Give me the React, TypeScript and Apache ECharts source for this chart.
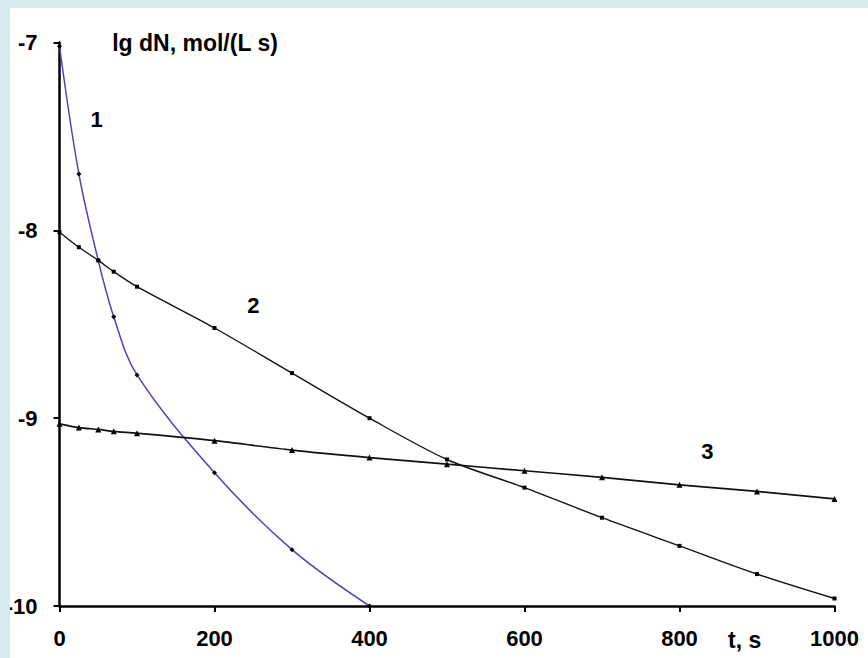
import React, { useEffect, useRef } from "react";
import * as echarts from "echarts";

// Data
const times1 = [0, 25, 50, 70, 100, 200, 300, 400];
const curve1 = [-7.02, -7.7, -8.16, -8.46, -8.77, -9.29, -9.7, -10.0];
const times23 = [0, 25, 50, 70, 100, 200, 300, 400, 500, 600, 700, 800, 900, 1000];
const curve2 = [-8.01, -8.09, -8.16, -8.22, -8.3, -8.52, -8.76, -9.0, -9.22, -9.37, -9.53, -9.68, -9.83, -9.96];
const curve3 = [-9.03, -9.05, -9.06, -9.07, -9.08, -9.12, -9.17, -9.21, -9.245, -9.28, -9.315, -9.355, -9.39, -9.43];

// Annotations in data coordinates
const curveLabels = [
  { text: "1", t: 48, v: -7.41 },
  { text: "2", t: 250, v: -8.4 },
  { text: "3", t: 836, v: -9.18 },
];
const yName = "lg dN, mol/(L s)";
const xName = "t, s";

const FONT = "'Liberation Sans', Arial, sans-serif";

export default function App() {
  const ref = useRef<HTMLDivElement>(null);
  useEffect(() => {
    if (!ref.current) return;
    const chart = echarts.init(ref.current, null, { renderer: "svg" });
    const zip = (ts: number[], vs: number[]) => ts.map((t, i) => [t, vs[i]]);
    chart.setOption({
      animation: false,
      backgroundColor: "#ffffff",
      grid: {
        left: 49.5,
        top: 34.5,
        width: 775,
        height: 563.5,
        containLabel: false,
        outerBoundsMode: "none",
      },
      xAxis: {
        type: "value",
        min: 0,
        max: 1000,
        interval: 200,
        axisLine: { onZero: false, lineStyle: { color: "#000", width: 2.5 } },
        axisTick: { show: true, length: 6, lineStyle: { color: "#000", width: 2 } },
        axisLabel: {
          color: "#000",
          fontSize: 22,
          fontWeight: "bold",
          fontFamily: FONT,
          margin: 21,
          formatter: (v: number) => String(v),
          showMinLabel: true,
          showMaxLabel: true,
        },
        splitLine: { show: false },
      },
      yAxis: {
        type: "value",
        min: -10,
        max: -7,
        interval: 1,
        axisLine: { show: true, onZero: false, lineStyle: { color: "#000", width: 2.5 } },
        axisTick: { show: true, length: 6, lineStyle: { color: "#000", width: 2 } },
        axisLabel: {
          color: "#000",
          fontSize: 22,
          fontWeight: "bold",
          fontFamily: FONT,
          margin: 22,
          formatter: (v: number) => String(v),
        },
        splitLine: { show: false },
      },
      series: [
        {
          type: "line",
          data: zip(times1, curve1),
          smooth: 0.35,
          symbol: "diamond",
          symbolSize: 5,
          itemStyle: { color: "#000" },
          lineStyle: { color: "#4646b4", width: 1.5 },
          z: 3,
        },
        {
          type: "line",
          data: zip(times23, curve2),
          smooth: 0.3,
          symbol: "rect",
          symbolSize: 4,
          itemStyle: { color: "#000" },
          lineStyle: { color: "#111", width: 1.4 },
        },
        {
          type: "line",
          data: zip(times23, curve3),
          smooth: 0.3,
          symbol: "triangle",
          symbolSize: 6,
          itemStyle: { color: "#000" },
          lineStyle: { color: "#111", width: 1.7 },
        },
      ],
    });

    const textStyle = (text: string, size: number) => ({
      text,
      fill: "#000",
      font: `bold ${size}px ${FONT}`,
    });
    const graphics: any[] = curveLabels.map((l) => {
      const [px, py] = chart.convertToPixel({ gridIndex: 0 }, [l.t, l.v]) as number[];
      return {
        type: "text",
        x: px,
        y: py,
        style: { ...textStyle(l.text, 22), align: "center", verticalAlign: "middle" },
      };
    });
    const [nx, ny] = chart.convertToPixel({ gridIndex: 0 }, [68, -7]) as number[];
    graphics.push({
      type: "text",
      x: nx,
      y: ny,
      style: { ...textStyle(yName, 23), align: "left", verticalAlign: "middle" },
    });
    const [tx, ty] = chart.convertToPixel({ gridIndex: 0 }, [884, -10]) as number[];
    graphics.push({
      type: "text",
      x: tx,
      y: ty + 34,
      style: { ...textStyle(xName, 23), align: "center", verticalAlign: "middle" },
    });
    chart.setOption({ graphic: graphics });

    return () => chart.dispose();
  }, []);

  return (
    <div
      style={{
        position: "fixed",
        left: 0,
        top: 0,
        width: 868,
        height: 658,
        background: "#d7ecf1",
        overflow: "hidden",
      }}
    >
      <div
        ref={ref}
        style={{ position: "absolute", left: 10, top: 8, width: 858, height: 650, background: "#fff" }}
      />
    </div>
  );
}
